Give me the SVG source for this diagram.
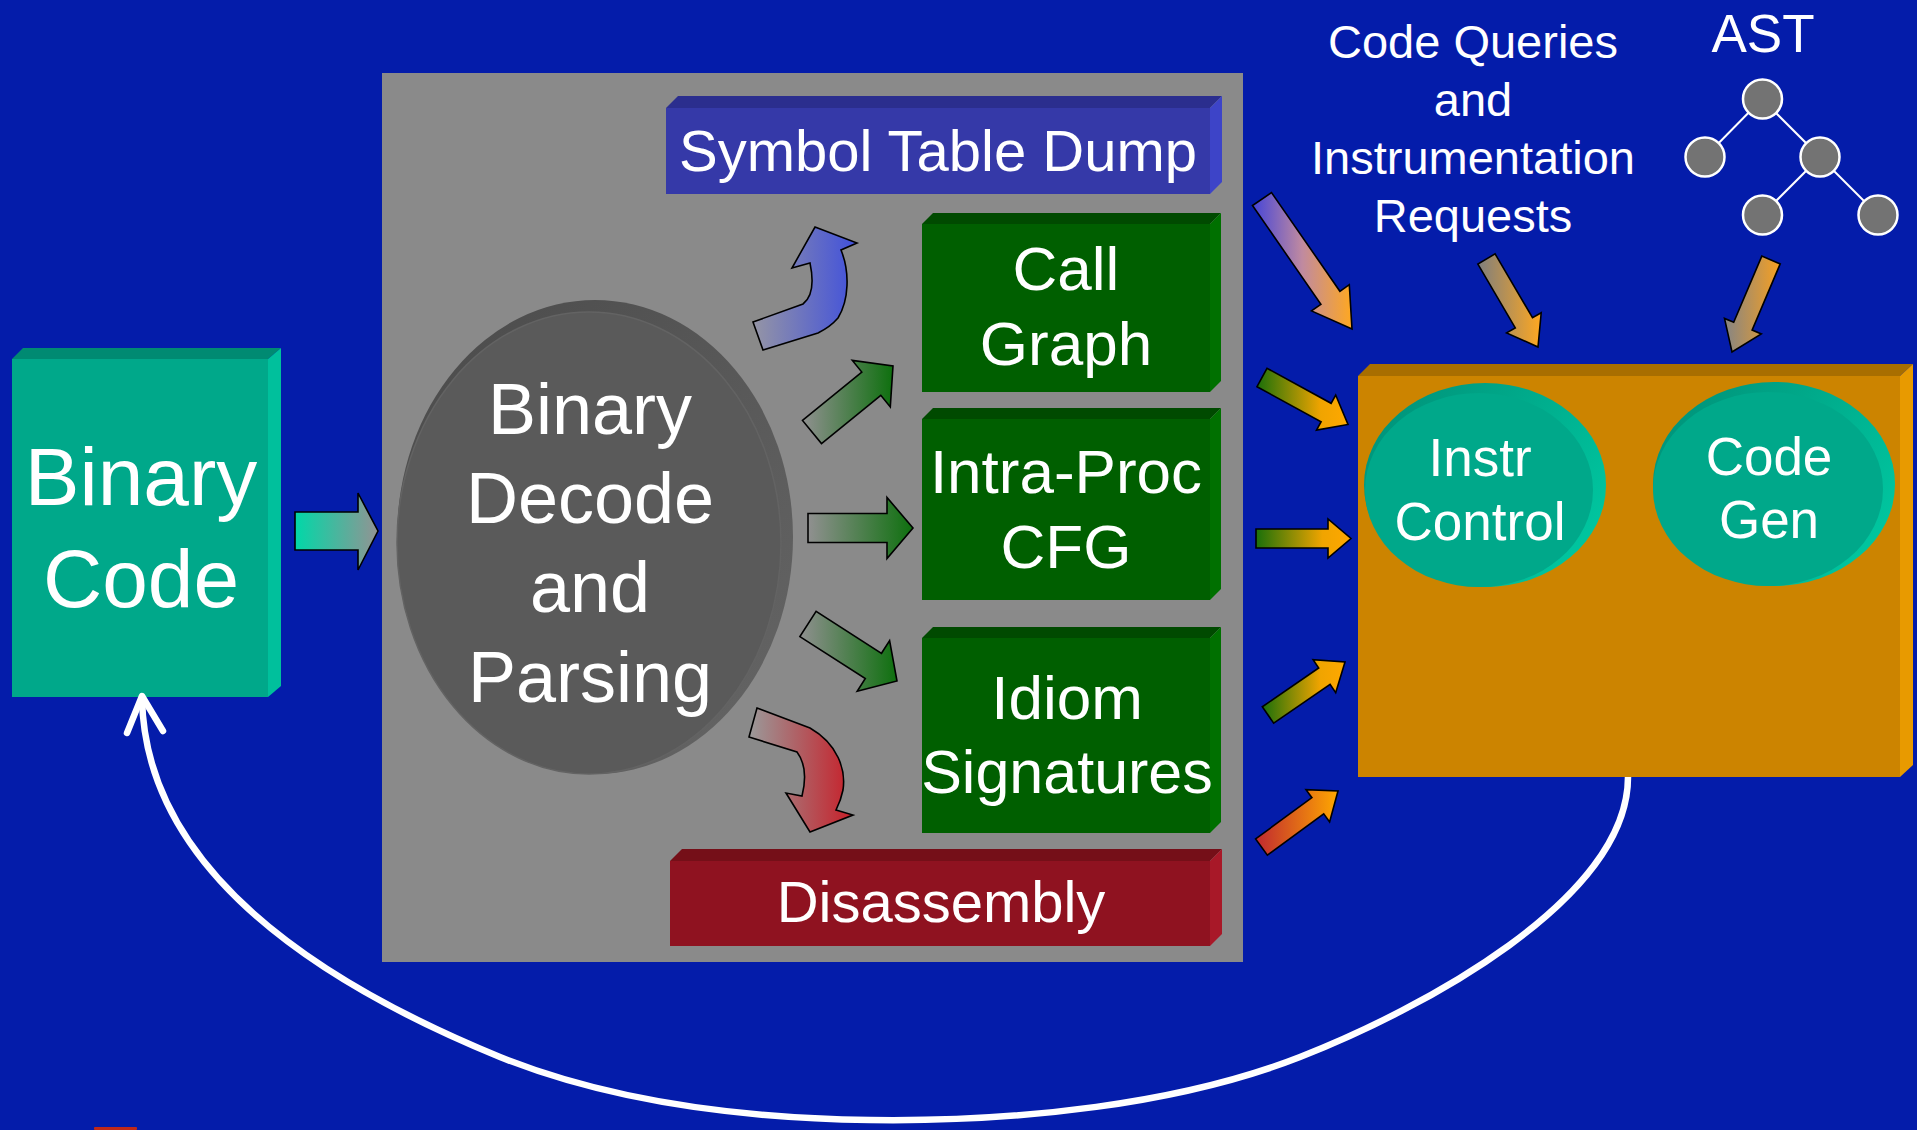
<svg xmlns="http://www.w3.org/2000/svg" width="1917" height="1130" viewBox="0 0 1917 1130">
<defs>
<style>
.t{font-family:"Liberation Sans",Arial,sans-serif;fill:#fff;text-anchor:middle}
.arr{stroke:#000;stroke-width:1.6;stroke-linejoin:miter}
.tree{fill:#737373;stroke:#fff;stroke-width:2.5}
</style>
<linearGradient id="gTeal" x1="0" y1="0" x2="1" y2="0"><stop offset="0" stop-color="#00D8A8"/><stop offset="1" stop-color="#939393"/></linearGradient>
<linearGradient id="gGreen" x1="0" y1="0" x2="1" y2="0"><stop offset="0" stop-color="#909090"/><stop offset="1" stop-color="#0E700E"/></linearGradient>
<linearGradient id="gBlue" x1="0" y1="0" x2="1" y2="0"><stop offset="0" stop-color="#9595A5"/><stop offset="1" stop-color="#4050DC"/></linearGradient>
<linearGradient id="gRed" x1="0" y1="0" x2="1" y2="0"><stop offset="0" stop-color="#9A9A9A"/><stop offset="1" stop-color="#C81E28"/></linearGradient>
<linearGradient id="gBO" x1="0" y1="0" x2="1" y2="0"><stop offset="0" stop-color="#4545D8"/><stop offset="0.5" stop-color="#C08AA0"/><stop offset="1" stop-color="#FFA820"/></linearGradient>
<linearGradient id="gGO" x1="0" y1="0" x2="1" y2="0"><stop offset="0" stop-color="#1A700A"/><stop offset="0.7" stop-color="#F0A400"/><stop offset="1" stop-color="#FFA800"/></linearGradient>
<linearGradient id="gRO" x1="0" y1="0" x2="1" y2="0"><stop offset="0" stop-color="#C02830"/><stop offset="1" stop-color="#FFA800"/></linearGradient>
<linearGradient id="gXO" x1="0" y1="0" x2="1" y2="0"><stop offset="0" stop-color="#7E7E7E"/><stop offset="1" stop-color="#FFA820"/></linearGradient>
<linearGradient id="gXO2" x1="0" y1="0" x2="1" y2="0"><stop offset="0" stop-color="#858585"/><stop offset="1" stop-color="#F8A020"/></linearGradient>
<linearGradient id="rimGray" x1="0" y1="0" x2="1" y2="1"><stop offset="0" stop-color="#4A4A4A"/><stop offset="1" stop-color="#666"/></linearGradient>
<linearGradient id="rimTeal" x1="0" y1="0" x2="1" y2="0.6"><stop offset="0" stop-color="#008E76"/><stop offset="1" stop-color="#00C49E"/></linearGradient>
</defs>

<rect width="1917" height="1130" fill="#041CAA"/>
<rect x="94" y="1127" width="43" height="3" rx="1" fill="#C02818"/>

<g id="binary-code">
<polygon points="12,359 23,348 281,348 268,359" fill="#008A72"/>
<polygon points="268,359 281,348 281,686 268,697" fill="#00C09C"/>
<rect x="12" y="359" width="256" height="338" fill="#00A88A"/>
<text class="t" x="141" y="505" font-size="82">Binary</text>
<text class="t" x="141" y="607" font-size="82">Code</text>
</g>

<g id="analysis-panel">
<rect x="382" y="73" width="861" height="889" fill="#8A8A8A"/>
</g>

<g id="binary-decode">
<ellipse cx="595" cy="537" rx="198" ry="237" fill="url(#rimGray)"/>
<ellipse cx="589" cy="543" rx="192" ry="231" fill="#5A5A5A" stroke="#636363" stroke-width="1.5"/>
<text class="t" x="590" y="434" font-size="72">Binary</text>
<text class="t" x="590" y="523" font-size="72">Decode</text>
<text class="t" x="590" y="612" font-size="72">and</text>
<text class="t" x="590" y="702" font-size="72">Parsing</text>
</g>

<g id="symbol-table">
<polygon points="666,108 678,96 1222,96 1210,108" fill="#2B2E8E"/>
<polygon points="1210,108 1222,96 1222,182 1210,194" fill="#3D44C8"/>
<rect x="666" y="108" width="544" height="86" fill="#3539A8"/>
<text class="t" x="938" y="171" font-size="58">Symbol Table Dump</text>
</g>

<g id="call-graph">
<polygon points="922,224 933,213 1221,213 1210,224" fill="#004A00"/>
<polygon points="1210,224 1221,213 1221,381 1210,392" fill="#007000"/>
<rect x="922" y="224" width="288" height="168" fill="#005F00"/>
<text class="t" x="1066" y="290" font-size="62">Call</text>
<text class="t" x="1066" y="365" font-size="62">Graph</text>
</g>

<g id="intra-proc-cfg">
<polygon points="922,419 933,408 1221,408 1210,419" fill="#004A00"/>
<polygon points="1210,419 1221,408 1221,589 1210,600" fill="#007000"/>
<rect x="922" y="419" width="288" height="181" fill="#005F00"/>
<text class="t" x="1066" y="493" font-size="62">Intra-Proc</text>
<text class="t" x="1066" y="568" font-size="62">CFG</text>
</g>

<g id="idiom-signatures">
<polygon points="922,638 933,627 1221,627 1210,638" fill="#004A00"/>
<polygon points="1210,638 1221,627 1221,822 1210,833" fill="#007000"/>
<rect x="922" y="638" width="288" height="195" fill="#005F00"/>
<text class="t" x="1067" y="719" font-size="62">Idiom</text>
<text class="t" x="1067" y="793" font-size="61">Signatures</text>
</g>

<g id="disassembly">
<polygon points="670,861 682,849 1222,849 1210,861" fill="#750F18"/>
<polygon points="1210,861 1222,849 1222,934 1210,946" fill="#A81828"/>
<rect x="670" y="861" width="540" height="85" fill="#8F1220"/>
<text class="t" x="941" y="922" font-size="58">Disassembly</text>
</g>

<g id="instrumentation-engine">
<polygon points="1358,376 1370,364 1913,364 1900,376" fill="#A86E00"/>
<polygon points="1900,376 1913,364 1913,765 1900,777" fill="#E89A00"/>
<rect x="1358" y="376" width="542" height="401" fill="#CC8400"/>
</g>

<g id="instr-control">
<ellipse cx="1485" cy="485" rx="121" ry="102" fill="url(#rimTeal)"/>
<ellipse cx="1479" cy="490" rx="114" ry="97" fill="#00A88A"/>
<text class="t" x="1480" y="476" font-size="53">Instr</text>
<text class="t" x="1480" y="540" font-size="53">Control</text>
</g>

<g id="code-gen">
<ellipse cx="1774" cy="484" rx="121" ry="102" fill="url(#rimTeal)"/>
<ellipse cx="1768" cy="489" rx="115" ry="97" fill="#00A88A"/>
<text class="t" x="1769" y="475" font-size="53">Code</text>
<text class="t" x="1769" y="538" font-size="53">Gen</text>
</g>

<g id="code-queries">
<text class="t" x="1473" y="58" font-size="47">Code Queries</text>
<text class="t" x="1473" y="116" font-size="47">and</text>
<text class="t" x="1473" y="174" font-size="47">Instrumentation</text>
<text class="t" x="1473" y="232" font-size="47">Requests</text>
</g>

<g id="ast">
<text class="t" x="1763" y="52" font-size="53">AST</text>
<g stroke="#fff" stroke-width="2">
<line x1="1762" y1="99" x2="1705" y2="157"/>
<line x1="1762" y1="99" x2="1820" y2="157"/>
<line x1="1820" y1="157" x2="1762" y2="215"/>
<line x1="1820" y1="157" x2="1878" y2="215"/>
</g>
<circle class="tree" cx="1762.5" cy="99" r="19.5"/>
<circle class="tree" cx="1705" cy="157" r="19.5"/>
<circle class="tree" cx="1820" cy="157" r="19.5"/>
<circle class="tree" cx="1762.5" cy="215" r="19.5"/>
<circle class="tree" cx="1878" cy="215" r="19.5"/>
</g>

<g id="connectors">
<polygon class="arr" fill="url(#gTeal)" points="295,512 358,512 358,493 378,531 358,570 358,550 295,550"/>
<path class="arr" fill="url(#gBlue)" d="M753,322 L803,304 C812,297 814,282 810,263 L792,268 L815,227 L857,243 L841,250 C850,272 849,300 838,318 C832,325 826,329 818,333 L763,350 Z"/>
<polygon class="arr" fill="url(#gGreen)" points="821.5,443.6 880.8,395.3 890.3,407 893,366 852.3,360.4 861.8,372.1 802.5,420.4"/>
<polygon class="arr" fill="url(#gGreen)" points="808,513.5 887,513.5 887,497.5 913,528 887,558.5 887,542.5 808,542.5"/>
<polygon class="arr" fill="url(#gGreen)" points="799.9,636.6 865.3,678.5 857.2,691.2 897,681 889.6,640.6 881.5,653.3 816.1,611.4"/>
<path class="arr" fill="url(#gRed)" d="M757,708 L810,728 C838,744 846,770 843,790 C841,800 838,806 836,810 L853,815 L810,832 L786,793 L802,796 C806,780 806,764 797,752 L749,737 Z"/>
<polygon class="arr" fill="url(#gBO)" points="1252.5,205.5 1320.9,304.3 1311.5,310.9 1352,329 1349.3,284.7 1339.9,291.3 1271.5,192.5"/>
<polygon class="arr" fill="url(#gGO)" points="1257,386.7 1321.1,421.7 1316.5,430.1 1348,424.5 1335.7,395 1331.1,403.3 1267,368.3"/>
<polygon class="arr" fill="url(#gGO)" points="1256,529 1328,529 1328,519 1351,538.5 1328,558 1328,548 1256,548"/>
<polygon class="arr" fill="url(#gGO)" points="1273.7,723.2 1330.1,684.4 1335.7,692.7 1345,662 1313.1,659.7 1318.7,668 1262.3,706.8"/>
<polygon class="arr" fill="url(#gRO)" points="1267.4,855.1 1323.7,813.9 1329.6,821.9 1338,791 1306,789.7 1311.9,797.7 1255.6,838.9"/>
<polygon class="arr" fill="url(#gXO)" points="1477.9,264.1 1515.3,327.9 1506.6,332.9 1538,347 1541.2,312.7 1532.5,317.7 1495.1,253.9"/>
<polygon class="arr" fill="url(#gXO2)" points="1761.8,256.1 1733.7,322.3 1724.5,318.4 1732,352 1761.3,334 1752.1,330.1 1780.2,263.9"/>
<path d="M1628,777 C1628,900 1420,1010 1300,1057 C1180,1104 1020,1122 870,1120 C720,1118 600,1097 500,1057 C300,975 145,860 142,698" fill="none" stroke="#fff" stroke-width="6.5"/>
<polyline points="127,733 142,696 163,731" fill="none" stroke="#fff" stroke-width="6.5" stroke-linecap="round" stroke-linejoin="round"/>
</g>
</svg>
